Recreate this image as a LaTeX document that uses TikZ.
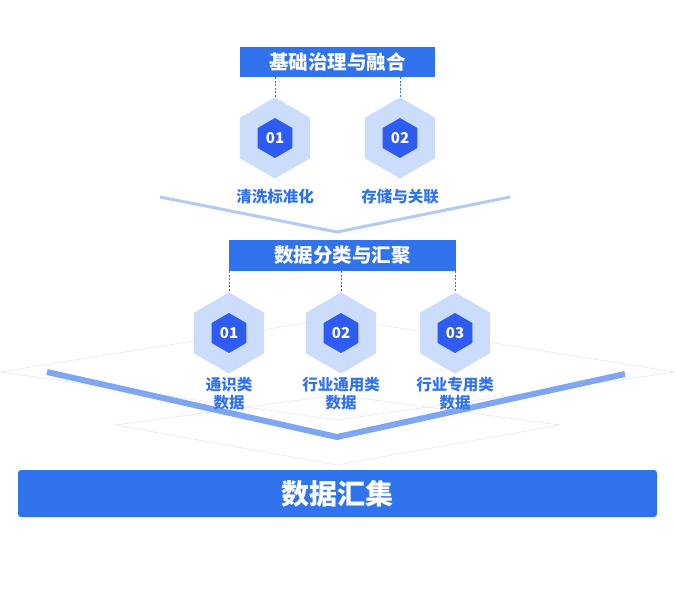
\documentclass[tikz,border=0pt]{standalone}
\usepackage{fontspec}
\setmainfont{Noto Sans CJK SC}
\usetikzlibrary{shapes.geometric}
\definecolor{mainblue}{HTML}{3173EC}
\definecolor{deepblue}{HTML}{2E5CF2}
\definecolor{hexblue}{HTML}{C6D9FC}
\definecolor{lineblue}{HTML}{7FA6F2}
\tikzset{
  titlebox/.style={fill=mainblue, text=white, font=\bfseries\fontsize{19.5}{19.5}\selectfont, inner sep=0pt},
  outerhex/.style={regular polygon, regular polygon sides=6, shape border rotate=30, minimum size=82pt, inner sep=0pt, fill=hexblue, draw=white, line width=0.6pt, opacity=0.9},
  innerhex/.style={regular polygon, regular polygon sides=6, shape border rotate=30, minimum size=40pt, inner sep=0pt, fill=deepblue, text=white, font=\bfseries\fontsize{15}{15}\selectfont},
  hexlabel/.style={text=mainblue, font=\bfseries\fontsize{15.5}{18}\selectfont, align=center},
  link/.style={draw=mainblue, dash pattern=on 2pt off 1.5pt, line width=0.8pt},
  band/.style={draw=lineblue, line width=#1, line join=miter},
  faint/.style={draw=blue!12, line width=0.5pt}
}
\begin{document}
\begin{tikzpicture}[x=1pt, y=-1pt]
  \useasboundingbox (0,0) rectangle (675,589);
  % faint floor lines
  \draw[faint] (0,372) -- (337,318) -- (675,372) -- (337,420) -- cycle;
  \draw[faint] (115,425) -- (337,395) -- (560,425) -- (337,465) -- cycle;
  % chevrons
  \draw[band=3pt, draw=lineblue!60] (160,197) -- (337,232) -- (510,197);
  \draw[band=6pt] (47,372) -- (337,437) -- (625,374);
  % first level
  \node[titlebox, minimum width=195pt, minimum height=30pt] (base) at (337.5,62) {基础治理与融合};
  \foreach \n/\x/\t in {1/275/清洗标准化, 2/400/存储与关联} {
    \node[outerhex] (hexa\n) at (\x,138) {};
    \node[innerhex] (coda\n) at (\x,138) {0\n};
    \node[hexlabel] (laba\n) at (\x,197) {\t};
    \draw[link] (base.south -| hexa\n) -- (hexa\n.north);
  }
  % second level
  \node[titlebox, minimum width=227pt, minimum height=31pt] (group) at (342.5,255.5) {数据分类与汇聚};
  \foreach \n/\x/\t in {1/229/通识类\\数据, 2/341/行业通用类\\数据, 3/455/行业专用类\\数据} {
    \node[outerhex] (hexb\n) at (\x,333) {};
    \node[innerhex] (codb\n) at (\x,333) {0\n};
    \node[hexlabel] (labb\n) at (\x,394) {\t};
    \draw[link] (group.south -| hexb\n) -- (hexb\n.north);
  }
  % bottom bar
  \node[fill=mainblue, rounded corners=3pt, minimum width=639pt, minimum height=47pt, text=white, font=\bfseries\fontsize{28}{28}\selectfont] (pool) at (337.5,493.5) {数据汇集};
\end{tikzpicture}
\end{document}
